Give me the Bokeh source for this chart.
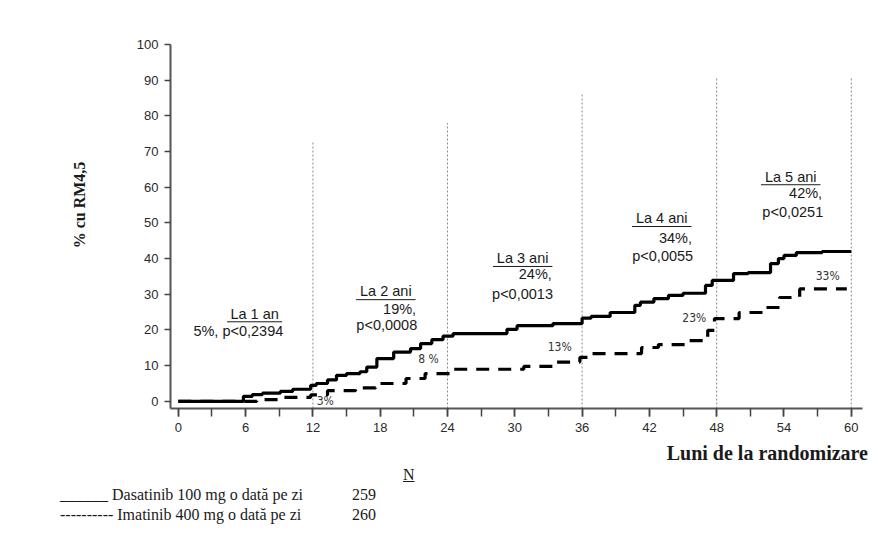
from bokeh.plotting import figure
from bokeh.layouts import column, row
from bokeh.models import Label, FixedTicker, Div
from bokeh.embed import file_html
from bokeh.resources import INLINE

# Cumulative MR4.5 (%) step curves, months since randomisation
dasatinib_t = [0, 5.8, 6.6, 7.5, 9.1, 10.2, 11.8, 12.3, 13.3, 14.1, 15.0, 16.2, 16.8,
               17.7, 19.2, 20.7, 21.6, 22.6, 23.6, 24.5, 29.3, 30.2, 33.4, 36.0, 36.8,
               38.5, 40.7, 41.2, 42.4, 43.7, 45.0, 47.0, 47.6, 49.5, 50.8, 52.8, 53.5,
               54.0, 55.1, 57.4, 60.0]
dasatinib_v = [0, 1.4, 1.9, 2.3, 2.8, 3.4, 4.5, 5.0, 6.0, 7.3, 7.8, 8.3, 9.6,
               12.0, 13.8, 14.8, 16.2, 17.3, 18.3, 19.0, 20.2, 21.2, 21.8, 23.3, 23.8,
               24.9, 26.9, 27.8, 28.8, 29.7, 30.3, 32.5, 33.9, 35.8, 36.1, 38.6, 40.0,
               40.9, 41.7, 42.0, 42.0]

imatinib_t = [0, 7.0, 9.3, 11.8, 13.3, 15.8, 17.6, 20.3, 22.0, 24.3, 30.8, 33.5,
              35.8, 36.6, 41.3, 42.8, 45.2, 47.2, 47.8, 50.0, 52.3, 53.6, 55.4, 59.6]
imatinib_v = [0, 0.5, 1.1, 1.8, 3.0, 3.8, 5.0, 6.4, 7.8, 9.0, 9.8, 11.0,
              12.3, 13.4, 15.1, 15.9, 17.0, 19.9, 23.2, 24.9, 26.3, 29.1, 31.5, 31.5]

# Yearly landmarks and their reference-line heights
landmark_months = [12, 24, 36, 48, 60]
landmark_tops = [73, 78, 86, 91, 91]

# Yearly summary boxes: heading, dasatinib rate, p-value
year_titles = ["La 1 an", "La 2 ani", "La 3 ani", "La 4 ani", "La 5 ani"]
year_rates = ["19%,", "24%,", "34%,", "42%,"]
year_pvals = ["p<0,0008", "p<0,0013", "p<0,0055", "p<0,0251"]
first_year_text = "5%, p<0,2394"

# Imatinib rates at each landmark
imatinib_labels = ["3%", "8 %", "13%", "23%", "33%"]

legend_names = ["______ Dasatinib 100 mg o dată pe zi", "---------- Imatinib 400 mg o dată pe zi"]
legend_n = ["259", "260"]

y_title = "% cu RM4,5"
x_title = "Luni de la randomizare"

SANS = "Liberation Sans"
NARROW = "'Liberation Sans Narrow', 'DejaVu Sans Condensed', sans-serif"
INK = "#1a1a1a"
SERIF_CSS = ("font-family:'Liberation Serif','Times New Roman',serif;color:%s;"
             "line-height:1;white-space:nowrap;position:absolute;" % INK)

p = figure(width=795, height=440, x_range=(-0.7, 61.0), y_range=(-2, 100),
           output_backend="svg", toolbar_location=None,
           min_border_left=70, min_border_right=33, min_border_top=44, min_border_bottom=32)
p.outline_line_color = None
p.xgrid.visible = False
p.ygrid.visible = False

# landmark reference lines
p.segment(x0=landmark_months, y0=[-2] * 5, x1=landmark_months, y1=landmark_tops,
          line_color="#8a8a8a", line_width=1, line_dash="2 2")

# curves
p.step(dasatinib_t, dasatinib_v, mode="after", line_color="black", line_width=3.2)
p.step(imatinib_t, imatinib_v, mode="after", line_color="black", line_width=3.2,
       line_dash="13 9")

# axes
for ax in (p.xaxis[0], p.yaxis[0]):
    ax.axis_line_color = "#555555"
    ax.axis_line_width = 2
    ax.major_tick_line_color = "#444444"
    ax.minor_tick_line_color = "#444444"
    ax.major_tick_line_width = 1.5
    ax.minor_tick_line_width = 1.5
    ax.major_tick_in = 0
    ax.minor_tick_in = 0
    ax.major_label_text_font = SANS
    ax.major_label_text_font_size = "13px"
    ax.major_label_text_color = "#2a2a2a"

p.xaxis.ticker = FixedTicker(ticks=list(range(0, 61, 6)), minor_ticks=list(range(0, 61, 3)))
p.xaxis.major_tick_out = 8
p.xaxis.minor_tick_out = 8
p.xaxis.major_label_standoff = 6
p.yaxis.ticker = FixedTicker(ticks=list(range(0, 101, 10)), minor_ticks=[])
p.yaxis.major_tick_out = 6
p.yaxis.major_label_standoff = 6


def add_text(fig, x, y, text, font=SANS, size="14.5px", align="left", baseline="middle",
             style="normal", color=INK):
    fig.add_layout(Label(x=x, y=y, text=text, text_font=font, text_font_size=size,
                         text_align=align, text_baseline=baseline, text_font_style=style,
                         text_color=color))


# yearly headings (underlined)
title_cx = [6.8, 18.5, 30.7, 43.1, 54.6]
title_cy = [24.6, 30.8, 40.1, 51.3, 63.0]
title_halfw = [2.45, 2.65, 2.65, 2.65, 2.65]
for t, cx, cy in zip(year_titles, title_cx, title_cy):
    add_text(p, cx, cy, t, align="center")
p.segment(x0=[c - w for c, w in zip(title_cx, title_halfw)], y0=[c - 2.3 for c in title_cy],
          x1=[c + w for c, w in zip(title_cx, title_halfw)], y1=[c - 2.3 for c in title_cy],
          line_color=INK, line_width=1)

add_text(p, 5.35, 19.6, first_year_text, align="center")
rate_rx = [21.2, 33.3, 45.8, 57.4]
rate_y = [26.0, 35.6, 45.9, 58.3]
pval_y = [21.3, 30.0, 40.6, 53.2]
for r, pv, rx, ry, py in zip(year_rates, year_pvals, rate_rx, rate_y, pval_y):
    add_text(p, rx, ry, r, align="right")
    add_text(p, rx + 0.1, py, pv, align="right")

# imatinib landmark values
for lbl, lx, ly in zip(imatinib_labels, [13.1, 22.3, 34.0, 46.0, 57.9],
                       [0.0, 12.0, 15.1, 23.5, 35.0]):
    add_text(p, lx, ly, lbl, font=NARROW, size="12px", align="center", color="#333333")

# left strip: rotated y-axis title
left_html = (
    '<div style="position:relative;width:100px;height:440px;">'
    '<div style="%sleft:80px;top:205px;font-size:16px;font-weight:bold;'
    'transform:translate(-50%%,-50%%) rotate(-90deg);">%s</div></div>' % (SERIF_CSS, y_title)
)
left_strip = Div(text=left_html, width=100, height=440, margin=0)

# bottom strip: x-axis title and the arm legend
rows = ""
for name, n, top in zip(legend_names, legend_n, [47, 67]):
    rows += '<div style="%sleft:60px;top:%dpx;font-size:16px;">%s</div>' % (SERIF_CSS, top, name)
    rows += '<div style="%sleft:352px;top:%dpx;font-size:16px;">%s</div>' % (SERIF_CSS, top, n)
bottom_html = (
    '<div style="position:relative;width:895px;height:103px;">'
    '<div style="%sright:27px;top:3px;font-size:20px;font-weight:bold;">%s</div>'
    '<div style="%sleft:403px;top:27px;font-size:16px;text-decoration:underline;">N</div>'
    '%s</div>' % (SERIF_CSS, x_title, SERIF_CSS, rows)
)
bottom_strip = Div(text=bottom_html, width=895, height=103, margin=0)

layout = column(row(left_strip, p, spacing=0), bottom_strip, spacing=0)
open("out.html", "w").write(file_html(layout, INLINE))
